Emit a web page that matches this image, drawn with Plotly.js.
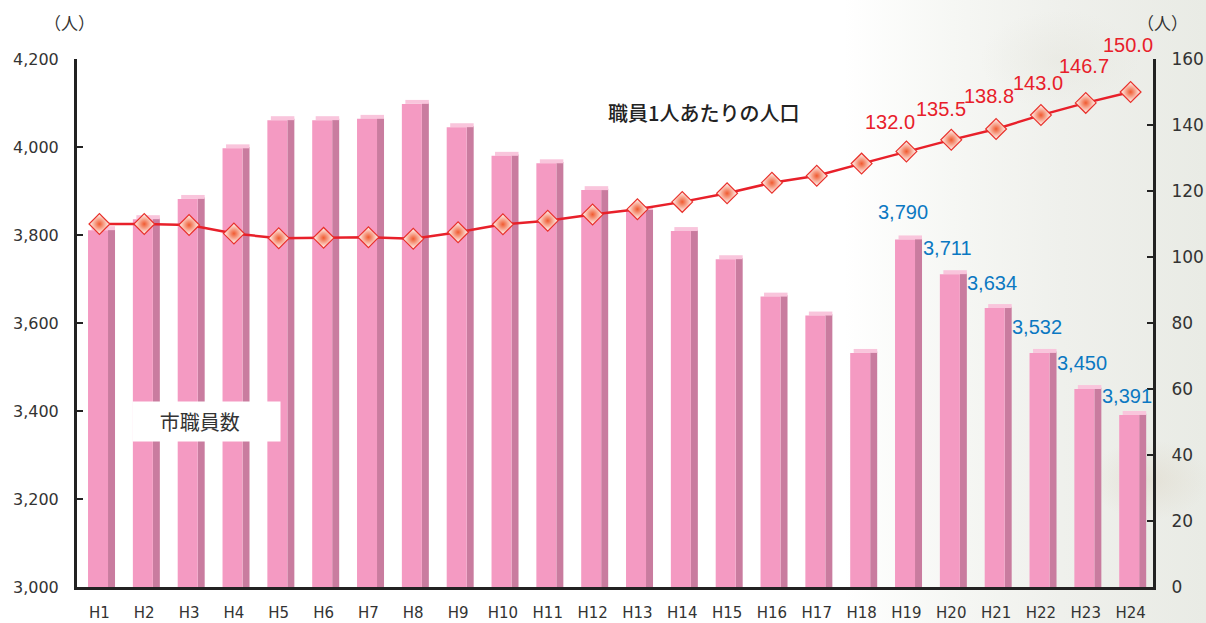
<!DOCTYPE html>
<html>
<head>
<meta charset="utf-8">
<script src="https://cdn.plot.ly/plotly-3.0.1.min.js"></script>
<style>
  html, body { margin: 0; padding: 0; }
  body {
    width: 1206px; height: 623px; overflow: hidden;
    background:
      radial-gradient(ellipse 60px 40px at 1150px 480px, rgba(215,205,185,0.35), transparent),
      radial-gradient(ellipse 80px 50px at 1060px 60px, rgba(225,225,215,0.35), transparent),
      linear-gradient(to right, #ffffff 0%, #ffffff 70%, #f6f7f4 79%, #eff0ec 88%, #e9ebe5 100%);
  }
  #chart { width: 1206px; height: 623px; }
</style>
</head>
<body>
<div id="chart"></div>
<script>
// ---- data ----
const years = ["H1","H2","H3","H4","H5","H6","H7","H8","H9","H10","H11","H12",
               "H13","H14","H15","H16","H17","H18","H19","H20","H21","H22","H23","H24"];
const staffCounts = [3811, 3836, 3882, 3997, 4061, 4061, 4064, 4098, 4045, 3980, 3963, 3902,
                     3857, 3809, 3745, 3660, 3617, 3532, 3790, 3711, 3634, 3532, 3450, 3391];
const popPerStaff = [110.0, 110.0, 109.7, 107.1, 105.7, 105.8, 106.0, 105.5, 107.5, 109.9, 111.0, 112.9,
                     114.5, 116.7, 119.3, 122.5, 124.6, 128.3, 132.0, 135.5, 138.8, 143.0, 146.7, 150.0];
const staffLabelYears = ["H19","H20","H21","H22","H23","H24"];
const popLabelYears = ["H19","H20","H21","H22","H23","H24"];
const leftTicks = [3000, 3200, 3400, 3600, 3800, 4000, 4200];
const rightTicks = [0, 20, 40, 60, 80, 100, 120, 140, 160];

// ---- styles ----
const numFont = "'DejaVu Sans', sans-serif";
const labFont = "'Liberation Sans', Arial, sans-serif";
const cjkFont = "'Noto Sans CJK JP', sans-serif";
const topDepth = 9;   // visual depth of bar top face, in left-axis units
const popShiftX = [-16, -10, -7, -3, -2, -3];
const popShiftY = [29, 31, 33, 32, 37, 47];
const staffShiftX = [-3, -4, -4, -4, -4, -4];
const staffShiftY = [27, 26, 25, 26, 26, 19];

const sideTrace = {
  type: 'bar', x: years, y: staffCounts.map(v => v - 3000 + 3), base: 3000,
  offset: 0.192, width: 0.156,
  marker: { color: '#c97c9f', line: { width: 0 } },
  hoverinfo: 'skip', showlegend: false
};
const topTrace = {
  type: 'bar', x: years, y: staffCounts.map(() => topDepth), base: staffCounts,
  offset: -0.176, width: 0.524,
  marker: { color: '#f9c5dc', line: { width: 0 } },
  hoverinfo: 'skip', showlegend: false
};
const frontTrace = {
  type: 'bar', x: years, y: staffCounts.map(v => v - 3000), base: 3000,
  offset: -0.254, width: 0.446,
  marker: { color: '#f49ac2', line: { width: 0 } },
  name: '市職員数', showlegend: false
};
const lineTrace = {
  type: 'scatter', mode: 'lines+markers', x: years, y: popPerStaff, yaxis: 'y2',
  line: { color: '#e8202a', width: 2.5 },
  marker: { symbol: 'diamond', size: 16, color: '#ffffff',
            gradient: { type: 'radial', color: '#f05a30' },
            line: { color: '#e8302a', width: 1.2 } },
  name: '職員1人あたりの人口', showlegend: false
};

const annotations = [];
popLabelYears.forEach((yr, i) => {
  const idx = years.indexOf(yr);
  annotations.push({
    x: yr, y: popPerStaff[idx], xref: 'x', yref: 'y2',
    xanchor: 'center', yanchor: 'middle',
    text: popPerStaff[idx].toFixed(1), showarrow: false,
    xshift: popShiftX[i], yshift: popShiftY[i],
    font: { family: labFont, size: 20, color: '#e8202a' }
  });
});
staffLabelYears.forEach((yr, i) => {
  const idx = years.indexOf(yr);
  annotations.push({
    x: yr, y: staffCounts[idx], xref: 'x', yref: 'y',
    xanchor: 'center', yanchor: 'middle',
    text: staffCounts[idx].toLocaleString('en-US'), showarrow: false,
    xshift: staffShiftX[i], yshift: staffShiftY[i],
    font: { family: labFont, size: 20, color: '#0b78c2' }
  });
});
annotations.push({
  xref: 'paper', yref: 'paper', x: 0.5827, y: 0.8996,
  xanchor: 'center', yanchor: 'middle',
  text: '職員1人あたりの人口', showarrow: false,
  font: { family: cjkFont, size: 20, color: '#222', weight: 500 }
});
annotations.push({
  xref: 'paper', yref: 'paper', x: 0.1199, y: 0.3134,
  xanchor: 'center', yanchor: 'middle',
  text: '市職員数&nbsp;&nbsp;&nbsp;', showarrow: false, bgcolor: '#ffffff',
  width: 147, height: 39, borderpad: 0, align: 'center',
  font: { family: cjkFont, size: 20, color: '#333' }
});
annotations.push({
  xref: 'paper', yref: 'paper', x: -0.0074, y: 1.07,
  xanchor: 'center', yanchor: 'middle',
  text: '（人）', showarrow: false,
  font: { family: cjkFont, size: 17, color: '#333' }
});
annotations.push({
  xref: 'paper', yref: 'paper', x: 1.009, y: 1.07,
  xanchor: 'center', yanchor: 'middle',
  text: '（人）', showarrow: false,
  font: { family: cjkFont, size: 17, color: '#333' }
});

const layout = {
  width: 1206, height: 623,
  margin: { l: 77, r: 53, t: 59, b: 36 },
  paper_bgcolor: 'rgba(0,0,0,0)', plot_bgcolor: 'rgba(0,0,0,0)',
  barmode: 'overlay', showlegend: false,
  xaxis: {
    type: 'category', range: [-0.5, 23.5], fixedrange: true,
    showline: true, linecolor: '#222', linewidth: 3,
    showgrid: false, zeroline: false, ticks: '',
    ticklabelstandoff: 10,
    tickfont: { family: numFont, size: 15, color: '#333' }
  },
  yaxis: {
    range: [3000, 4200], tickvals: leftTicks, tickformat: ',',
    showline: true, linecolor: '#222', linewidth: 3,
    showgrid: false, zeroline: false,
    ticks: 'inside', ticklen: 6, tickwidth: 2, tickcolor: '#222',
    ticklabelstandoff: 12,
    tickfont: { family: numFont, size: 16, color: '#333' }
  },
  yaxis2: {
    range: [0, 160], tickvals: rightTicks, overlaying: 'y', side: 'right', anchor: 'x',
    showline: true, linecolor: '#222', linewidth: 3,
    showgrid: false, zeroline: false,
    ticks: 'inside', ticklen: 6, tickwidth: 2, tickcolor: '#222',
    ticklabelstandoff: 12,
    tickfont: { family: numFont, size: 17, color: '#333' }
  },
  annotations: annotations
};

Plotly.newPlot('chart', [sideTrace, topTrace, frontTrace, lineTrace], layout,
               { displayModeBar: false, staticPlot: true });
</script>
</body>
</html>
